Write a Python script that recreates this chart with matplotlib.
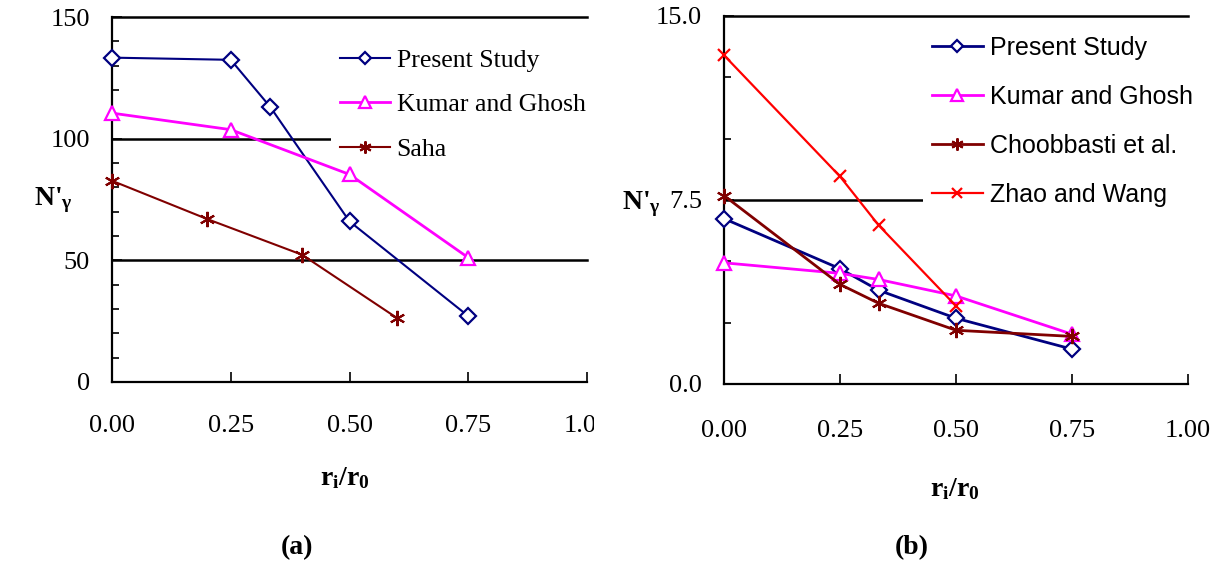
import matplotlib
matplotlib.use("Agg")
import matplotlib.pyplot as plt
from matplotlib.ticker import MultipleLocator, FixedLocator
from matplotlib.transforms import Bbox, TransformedBbox

# ---- data ----
# panel (a)
a_x_present = [0.0, 0.25, 1/3, 0.5, 0.75]
a_y_present = [133.3, 132.4, 113.0, 66.0, 27.1]
a_x_kumar = [0.0, 0.25, 0.5, 0.75]
a_y_kumar = [110.5, 103.7, 85.3, 51.1]
a_x_saha = [0.0, 0.2, 0.4, 0.6]
a_y_saha = [82.7, 67.0, 52.3, 26.3]

# panel (b)
b_x = [0.0, 0.25, 1/3, 0.5, 0.75]
b_y_present = [6.74, 4.70, 3.82, 2.68, 1.42]
b_y_kumar = [4.94, 4.51, 4.26, 3.59, 2.03]
b_y_choob = [7.68, 4.06, 3.29, 2.19, 1.94]
b_x_zhao = [0.0, 0.25, 1/3, 0.5]
b_y_zhao = [13.40, 8.46, 6.47, 3.18]

x_ticks = [0.0, 0.25, 0.5, 0.75, 1.0]
x_ticklabels = ["0.00", "0.25", "0.50", "0.75", "1.00"]
a_yticks = [0, 50, 100, 150]
a_yticklabels = ["0", "50", "100", "150"]
b_yticks = [0.0, 7.5, 15.0]
b_yticklabels = ["0.0", "7.5", "15.0"]

navy = "#000080"
magenta = "#FF00FF"
maroon = "#800000"
red = "#FF0000"
star = (6, 2, 0)

plt.rcParams['font.family'] = ['Liberation Serif', 'DejaVu Serif']
plt.rcParams['mathtext.fontset'] = 'custom'
plt.rcParams['mathtext.rm'] = 'Liberation Serif'
plt.rcParams['mathtext.it'] = 'Liberation Serif:italic'
plt.rcParams['mathtext.bf'] = 'Liberation Serif:bold'

W, H = 1219, 562
fig = plt.figure(figsize=(W / 100, H / 100), dpi=100)


def px_axes(l, t, r, b):
    return fig.add_axes([l / W, 1 - b / H, (r - l) / W, (b - t) / H])


ax1 = px_axes(112, 17, 587, 382)
ax2 = px_axes(724, 16, 1188, 384)

tick_fs = 19


def style_axes(ax, ylim, yticks, yticklabels, minor, grid, xpad):
    ax.set_xlim(0, 1.0)
    ax.set_ylim(*ylim)
    for s in ['top', 'right']:
        ax.spines[s].set_visible(False)
    for s in ['left', 'bottom']:
        ax.spines[s].set_linewidth(1.6)
        ax.spines[s].set_color('black')
        ax.spines[s].set_zorder(6)
    ax.xaxis.set_major_locator(FixedLocator(x_ticks))
    ax.set_xticklabels(x_ticklabels)
    ax.set_yticks(yticks)
    ax.set_yticklabels(yticklabels)
    ax.yaxis.set_minor_locator(MultipleLocator(minor))
    ax.tick_params(which='both', direction='in', width=1.2, labelsize=tick_fs, colors='black')
    ax.tick_params(which='major', length=7)
    ax.tick_params(which='minor', length=5)
    ax.tick_params(axis='x', pad=xpad)
    ax.tick_params(axis='y', pad=16)
    for g in grid:
        ax.axhline(g, color='black', lw=1.8, zorder=1, clip_on=False)


style_axes(ax1, (0, 150), a_yticks, a_yticklabels, 10, [50, 100, 150], 24)
style_axes(ax2, (0, 15), b_yticks, b_yticklabels, 2.5, [7.5, 15.0], 26)

# lines sit above the (white) legend boxes, gridlines below them
zl = 7
mk = dict(markersize=10, markerfacecolor='white', markeredgewidth=1.6, clip_on=False)
dm = dict(marker='D', markersize=8, markerfacecolor='white', markeredgewidth=1.6,
          clip_on=False)
sm = dict(marker=star, markersize=11, markeredgewidth=1.5, clip_on=False)

# panel (a)
ax1.plot(a_x_present, a_y_present, color=navy, lw=1.5, label='Present Study', zorder=zl, **dm)
ax1.plot(a_x_kumar, a_y_kumar, color=magenta, lw=2, marker='^', label='Kumar and Ghosh',
         zorder=zl, **mk)
ax1.plot(a_x_saha, a_y_saha, color=maroon, lw=1.5, label='Saha', zorder=zl, **sm)

# panel (b)
ax2.plot(b_x, b_y_present, color=navy, lw=2, label='Present Study', zorder=zl, **dm)
ax2.plot(b_x, b_y_kumar, color=magenta, lw=2, marker='^', label='Kumar and Ghosh',
         zorder=zl, **mk)
ax2.plot(b_x, b_y_choob, color=maroon, lw=2, label='Choobbasti et al.', zorder=zl, **sm)
ax2.plot(b_x_zhao, b_y_zhao, color=red, lw=1.6, marker='x', markersize=9,
         markeredgewidth=1.6, label='Zhao and Wang', zorder=zl, clip_on=False)

leg1 = ax1.legend(loc='upper left', bbox_to_anchor=(331 / W, 1 - 40 / H),
                  bbox_transform=fig.transFigure, borderaxespad=0,
                  frameon=True, fancybox=False, framealpha=1, facecolor='white',
                  edgecolor='none', borderpad=0.35, handlelength=1.95,
                  handletextpad=0.25, labelspacing=0.83, markerscale=0.8,
                  prop={'family': 'Liberation Serif', 'size': 18.5})
leg1.set_zorder(5)

leg2 = ax2.legend(loc='upper left', bbox_to_anchor=(923 / W, 1 - 27 / H),
                  bbox_transform=fig.transFigure, borderaxespad=0,
                  frameon=True, fancybox=False, framealpha=1, facecolor='white',
                  edgecolor='none', borderpad=0.35, handlelength=2.05,
                  handletextpad=0.3, labelspacing=1.0, markerscale=0.8,
                  prop={'family': 'Liberation Sans', 'size': 18})
leg2.set_zorder(5)

# axis labels
lab = dict(fontsize=20, fontweight='bold', ha='center', va='center')
fig.text(53 / W, 1 - 200 / H, r"N'$_\mathbf{γ}$", **lab)
fig.text(641 / W, 1 - 204 / H, r"N'$_\mathbf{γ}$", **lab)
fig.text(345 / W, 1 - 478 / H, r"r$_\mathbf{i}$/r$_\mathbf{0}$", **lab)
fig.text(955 / W, 1 - 489 / H, r"r$_\mathbf{i}$/r$_\mathbf{0}$", **lab)
fig.text(297 / W, 1 - 548 / H, "(a)", **lab)
fig.text(912 / W, 1 - 548 / H, "(b)", **lab)

# the last x label of panel (a) is cut off in the original
fig.canvas.draw()
last = ax1.get_xticklabels()[-1]
last.set_clip_box(TransformedBbox(Bbox([[0, 0], [594 / W, 1]]), fig.transFigure))
last.set_clip_on(True)

fig.savefig("out.png", dpi=100)
